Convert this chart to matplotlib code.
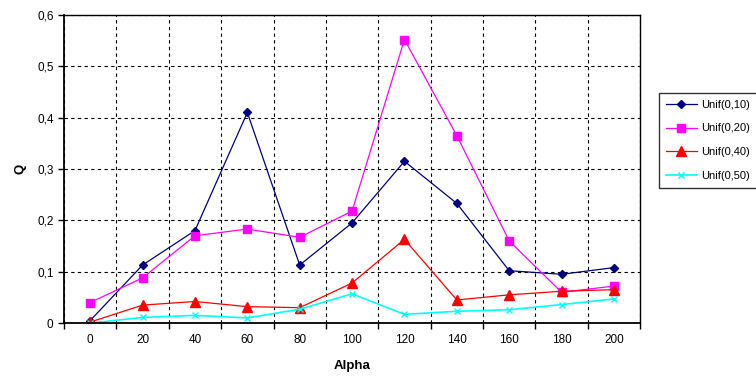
import numpy as np
import matplotlib
matplotlib.use('Agg')
import matplotlib.pyplot as plt
from matplotlib.ticker import FixedLocator, FuncFormatter

plt.rcParams['font.family'] = ['Liberation Sans', 'DejaVu Sans']

alpha = [0, 20, 40, 60, 80, 100, 120, 140, 160, 180, 200]
unif10 = [0.005, 0.113, 0.18, 0.41, 0.113, 0.195, 0.315, 0.233, 0.102, 0.095, 0.108]
unif20 = [0.04, 0.088, 0.17, 0.183, 0.167, 0.218, 0.552, 0.365, 0.16, 0.06, 0.072]
unif40 = [0.002, 0.035, 0.042, 0.032, 0.03, 0.078, 0.163, 0.045, 0.055, 0.062, 0.065]
unif50 = [0.0, 0.011, 0.015, 0.01, 0.027, 0.057, 0.017, 0.023, 0.026, 0.036, 0.047]

fig = plt.figure(figsize=(7.56, 3.81), dpi=100)
ax = fig.add_axes([0.0847, 0.152, 0.762, 0.809])

x = np.arange(len(alpha))
ax.plot(x, unif10, color='#000080', marker='D', markersize=4.5, linewidth=0.9, label='Unif(0,10)')
ax.plot(x, unif20, color='#ff00ff', marker='s', markersize=5.5, linewidth=0.9, label='Unif(0,20)')
ax.plot(x, unif40, color='#ff0000', marker='^', markersize=6.5, linewidth=0.9, label='Unif(0,40)')
ax.plot(x, unif50, color='#00ffff', marker='x', markersize=4.5, markeredgewidth=1, linewidth=1.2, label='Unif(0,50)')

ax.set_xlim(-0.5, len(alpha) - 0.5)
ax.set_ylim(0, 0.6)

ax.xaxis.set_major_locator(FixedLocator(x))
ax.set_xticklabels([str(a) for a in alpha])
ax.xaxis.set_minor_locator(FixedLocator(np.arange(-0.5, len(alpha), 1.0)))
ax.tick_params(axis='x', which='major', length=0, pad=8)
ax.tick_params(axis='x', which='minor', length=4, direction='out', width=1)
ax.set_yticks(np.arange(0, 0.61, 0.1))
ax.yaxis.set_major_formatter(FuncFormatter(lambda v, p: ('%g' % round(v, 1)).replace('.', ',')))
ax.tick_params(axis='y', length=4, direction='out', width=1)
ax.tick_params(labelsize=8.5)

ax.grid(True, axis='x', which='minor', linestyle=(0, (3, 3)), color='black', linewidth=0.8)
ax.grid(True, axis='y', which='major', linestyle=(0, (3, 3)), color='black', linewidth=0.8)
ax.set_axisbelow(True)
for s in ax.spines.values():
    s.set_color('black')
    s.set_linewidth(1)
ax.spines['left'].set_linewidth(1.3)
ax.spines['bottom'].set_linewidth(1.3)

ax.set_xlabel('Alpha', fontweight='bold', fontsize=9.5, labelpad=10)
ax.set_ylabel('Q', fontweight='bold', fontsize=9.5, labelpad=8)

leg = ax.legend(loc='upper left', bbox_to_anchor=(1.033, 0.747), borderaxespad=0, fontsize=8,
                frameon=True, fancybox=False, edgecolor='black', handlelength=2.8,
                handletextpad=0.4, borderpad=0.6, labelspacing=1.25)
leg.get_frame().set_linewidth(1)

fig.savefig('out.png', dpi=100)
